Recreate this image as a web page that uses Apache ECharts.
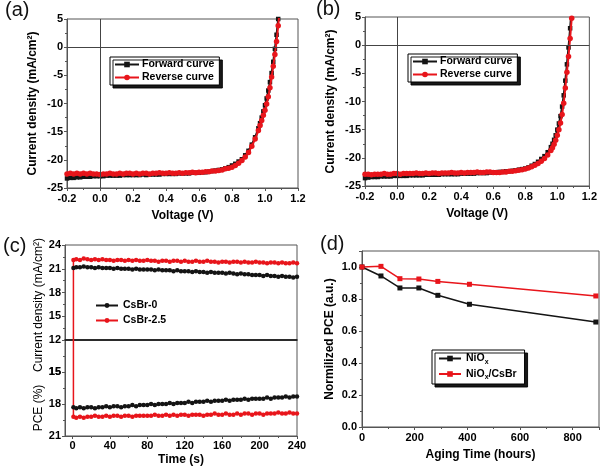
<!DOCTYPE html>
<html><head><meta charset="utf-8">
<script src="https://cdn.jsdelivr.net/npm/echarts@6/dist/echarts.min.js"></script>
<style>html,body{margin:0;padding:0;background:#fff}#c{width:600px;height:469px}</style>
</head><body><div id="c"></div>
<script>
// ---------- (a) / (b) J-V data ----------
const volts = [-0.20,-0.18,-0.16,-0.14,-0.12,-0.10,-0.08,-0.06,-0.04,-0.02,
  0.00,0.02,0.04,0.06,0.08,0.10,0.12,0.14,0.16,0.18,
  0.20,0.22,0.24,0.26,0.28,0.30,0.32,0.34,0.36,0.38,
  0.40,0.42,0.44,0.46,0.48,0.50,0.52,0.54,0.56,0.58,
  0.60,0.62,0.64,0.66,0.68,0.70,0.72,0.74,0.76,0.78,
  0.80,0.82,0.84,0.86,0.88,0.90,0.92,0.94,0.96,
  0.97,0.98,0.99,1.00,1.01,1.02,1.03,1.04,1.05,1.06,1.07,1.08,1.09,1.10];
const fwdA = [-23.3,-23.2,-23.2,-23.1,-23.1,-23.0,-23.0,-23.0,-22.9,-22.9,
  -22.9,-22.9,-22.8,-22.8,-22.8,-22.8,-22.8,-22.7,-22.7,-22.7,
  -22.7,-22.7,-22.7,-22.6,-22.7,-22.6,-22.6,-22.6,-22.6,-22.5,
  -22.5,-22.5,-22.5,-22.5,-22.4,-22.4,-22.4,-22.4,-22.3,-22.3,
  -22.3,-22.2,-22.2,-22.1,-22.0,-21.9,-21.8,-21.7,-21.5,-21.3,
  -21.0,-20.7,-20.3,-19.9,-19.2,-18.4,-17.3,-16.0,-14.4,
  -13.5,-12.5,-11.4,-10.3,-9.1,-7.7,-6.2,-4.6,-2.6,-0.3,2.2,5.0,8.0,11.0];
const revA = [-22.5,-22.4,-22.5,-22.4,-22.5,-22.4,-22.5,-22.4,-22.5,-22.5,
  -22.6,-22.5,-22.5,-22.4,-22.5,-22.5,-22.4,-22.5,-22.4,-22.4,
  -22.5,-22.4,-22.5,-22.4,-22.4,-22.5,-22.4,-22.4,-22.3,-22.4,
  -22.4,-22.3,-22.4,-22.4,-22.3,-22.4,-22.3,-22.3,-22.2,-22.3,
  -22.2,-22.2,-22.1,-22.1,-22.0,-22.0,-21.9,-21.8,-21.6,-21.5,
  -21.3,-21.0,-20.6,-20.1,-19.5,-18.7,-17.6,-16.3,-14.8,
  -13.9,-13.0,-12.1,-11.2,-10.1,-8.8,-7.2,-5.3,-3.4,-1.3,1.0,3.8,6.8,10.0];
const fwdB = [-23.6,-23.5,-23.4,-23.4,-23.4,-23.3,-23.3,-23.3,-23.3,-23.2,
  -23.2,-23.2,-23.2,-23.2,-23.1,-23.1,-23.1,-23.1,-23.1,-23.0,
  -23.0,-23.0,-23.0,-23.0,-22.9,-22.9,-22.9,-22.9,-22.9,-22.9,
  -22.8,-22.8,-22.8,-22.8,-22.8,-22.7,-22.7,-22.7,-22.7,-22.6,
  -22.6,-22.6,-22.5,-22.5,-22.4,-22.4,-22.3,-22.2,-22.1,-22.0,
  -21.9,-21.7,-21.4,-21.1,-20.7,-20.2,-19.7,-19.0,-18.1,
  -17.5,-16.8,-16.0,-15.0,-13.9,-12.6,-10.9,-8.9,-6.3,-3.4,-0.4,3.0,6.8,10.5];
const revB = [-22.9,-22.9,-23.0,-22.9,-22.9,-22.9,-22.8,-22.9,-22.9,-22.8,
  -22.8,-22.9,-22.8,-22.8,-22.8,-22.8,-22.7,-22.8,-22.8,-22.7,
  -22.8,-22.7,-22.7,-22.8,-22.7,-22.7,-22.7,-22.6,-22.7,-22.7,
  -22.6,-22.7,-22.6,-22.6,-22.6,-22.5,-22.6,-22.6,-22.5,-22.5,
  -22.6,-22.6,-22.6,-22.5,-22.5,-22.4,-22.4,-22.3,-22.2,-22.1,
  -22.0,-21.8,-21.6,-21.3,-21.0,-20.6,-20.1,-19.5,-18.7,
  -18.2,-17.6,-16.9,-16.0,-15.0,-13.8,-12.3,-10.3,-7.6,-4.8,-2.0,1.2,4.8,8.6];

// ---------- (c) stability data ----------
const times = [1,4,8,12,16,20,24,28,32,36,40,44,48,52,56,60,64,68,72,76,
  80,84,88,92,96,100,104,108,112,116,120,124,128,132,136,140,144,148,152,156,
  160,164,168,172,176,180,184,188,192,196,200,204,208,212,216,220,224,228,232,236,240];
const jCsBr0 = [21.1,21.2,21.2,21.3,21.2,21.2,21.1,21.2,21.1,21.1,
  21.1,21.0,21.1,21.0,21.0,21.0,20.9,21.0,20.9,20.9,
  20.9,20.9,20.8,20.9,20.8,20.8,20.8,20.7,20.8,20.7,
  20.7,20.7,20.6,20.7,20.6,20.6,20.5,20.6,20.5,20.5,
  20.5,20.4,20.5,20.4,20.3,20.4,20.3,20.3,20.2,20.2,
  20.2,20.1,20.2,20.1,20.1,20.0,20.1,20.0,20.0,19.9,20.0];
const jCsBr25 = [22.1,22.2,22.1,22.3,22.2,22.1,22.2,22.1,22.2,22.1,
  22.1,22.0,22.1,22.1,22.0,22.1,22.0,22.1,22.0,22.0,
  22.1,22.0,22.0,21.9,22.0,22.0,21.9,22.0,22.0,21.9,
  22.0,21.9,21.9,22.0,21.9,21.9,22.0,21.9,21.9,21.8,
  21.9,21.9,21.8,21.9,21.9,21.8,21.9,21.8,21.8,21.9,
  21.8,21.8,21.7,21.8,21.8,21.7,21.8,21.7,21.7,21.8,21.7];
const pceCsBr0 = [18.3,18.4,18.3,18.4,18.3,18.3,18.4,18.3,18.3,18.2,
  18.3,18.2,18.2,18.3,18.2,18.2,18.1,18.2,18.1,18.1,
  18.1,18.0,18.1,18.0,18.0,18.0,17.9,18.0,17.9,17.9,
  17.9,17.8,17.9,17.8,17.8,17.8,17.7,17.8,17.7,17.7,
  17.7,17.6,17.7,17.6,17.6,17.6,17.5,17.6,17.5,17.5,
  17.5,17.5,17.4,17.5,17.4,17.4,17.4,17.3,17.4,17.3,17.3];
const pceCsBr25 = [19.2,19.3,19.2,19.3,19.2,19.2,19.1,19.2,19.2,19.1,
  19.2,19.1,19.1,19.2,19.1,19.1,19.2,19.1,19.1,19.1,
  19.1,19.1,19.0,19.1,19.1,19.0,19.1,19.0,19.1,19.0,
  19.0,19.1,19.0,19.0,19.0,19.1,19.0,19.0,18.9,19.0,
  19.0,18.9,19.0,19.0,18.9,19.0,18.9,18.9,19.0,18.9,
  18.9,19.0,18.9,18.9,18.9,18.8,18.9,18.9,18.8,18.9,18.9];
const timeTicks = [0,40,80,120,160,200,240];
const timeMinorTicks = [20,60,100,140,180,220];
const pceExtraTick = 15;

// ---------- (d) aging data ----------
const agingHours = [0,72,144,216,288,408,888];
const pceNiOx = [1.0,0.944,0.869,0.869,0.823,0.767,0.656];
const pceNiOxCsBr = [1.0,1.004,0.927,0.925,0.91,0.892,0.819];

const zip = (xs, ys) => xs.map((x, i) => [x, ys[i]]);
const FONT = 'Liberation Sans';
const BLACK = '#141414', RED = '#e8151b', AXIS = '#555';

const lblStyle = {color: '#000', fontWeight: 'bold', fontSize: 11, fontFamily: FONT};
const nameStyle = {color: '#000', fontWeight: 'bold', fontSize: 12, fontFamily: FONT};

function axis(o) {
  return Object.assign({
    type: 'value',
    axisLine: {show: true, onZero: false, lineStyle: {color: AXIS, width: 1}},
    axisTick: {show: true, inside: false, length: 3, lineStyle: {color: AXIS}},
    minorTick: {show: true, splitNumber: 2, length: 2, lineStyle: {color: AXIS}},
    splitLine: {show: false},
    axisLabel: Object.assign({margin: 4}, lblStyle),
    nameLocation: 'middle',
    nameTextStyle: nameStyle
  }, o);
}
const grid = (l, t, w, h) => ({left: l, top: t, width: w, height: h, show: true, borderColor: AXIS, borderWidth: 1, backgroundColor: 'transparent'});

const oneDec = v => v.toFixed(1);
const zeroLines = {silent: true, symbol: 'none', label: {show: false}, lineStyle: {color: '#444', width: 1, type: 'solid'}, data: [{yAxis: 0}, {xAxis: 0}]};

function jvSeries(name, x, y, data, isRed, withLines) {
  const s = {
    name, type: 'line', xAxisIndex: x, yAxisIndex: y, data,
    symbol: isRed ? 'circle' : 'rect', symbolSize: isRed ? 5.5 : 4.5, showAllSymbol: true,
    lineStyle: {color: isRed ? RED : BLACK, width: 2},
    itemStyle: {color: isRed ? RED : BLACK},
    z: isRed ? 4 : 3
  };
  if (withLines) s.markLine = zeroLines;
  return s;
}
function tSeries(name, x, y, data, isRed) {
  return {
    name, type: 'line', xAxisIndex: x, yAxisIndex: y, data,
    symbol: 'circle', symbolSize: 4.5, showAllSymbol: true,
    lineStyle: {color: isRed ? RED : BLACK, width: 1.5},
    itemStyle: {color: isRed ? RED : BLACK}, z: isRed ? 4 : 3
  };
}
const boxLegend = (data, left, top, extra) => Object.assign({
  data, left, top, orient: 'vertical', itemGap: 2, itemWidth: 24, itemHeight: 7,
  padding: [2, 5, 2, 4], borderColor: '#000', borderWidth: 1, backgroundColor: '#fff',
  shadowColor: 'rgba(0,0,0,0.9)', shadowOffsetX: 3, shadowOffsetY: 3, shadowBlur: 0,
  textStyle: {color: '#000', fontWeight: 'bold', fontSize: 10.5, fontFamily: FONT, padding: [0, 0, 0, -2]},
  selectedMode: false
}, extra || {});
const vText = (text, x, y) => ({type: 'text', x, y, rotation: Math.PI / 2, silent: true,
  style: {text, fill: '#000', font: 'bold 10px "Liberation Sans"', align: 'center', verticalAlign: 'middle'}});

const chart = echarts.init(document.getElementById('c'), null, {renderer: 'canvas'});
chart.setOption({
  animation: false,
  backgroundColor: '#fff',
  title: [
    {text: '(a)', left: 5, top: 0},
    {text: '(b)', left: 316, top: -1},
    {text: '(c)', left: 3, top: 236},
    {text: '(d)', left: 320, top: 234}
  ].map(t => Object.assign(t, {padding: 0, textStyle: {fontSize: 20, fontWeight: 'normal', color: '#111', fontFamily: FONT}})),
  graphic: [
    vText('Current density (mA/cm²)', 39, 305),
    vText('PCE (%)', 39, 408)
  ],
  grid: [
    grid(67, 19, 231, 169),
    grid(365, 17, 228, 169),
    grid(65, 245, 232, 95),
    grid(65, 340, 232, 96),
    grid(362, 251, 237, 176)
  ],
  legend: [
    boxLegend(['Forward curve', 'Reverse curve'], 110, 57),
    boxLegend(['Forward curve', 'Reverse curve'], 408, 54),
    {data: ['CsBr-0', 'CsBr-2.5'], left: 90, top: 295, orient: 'vertical', itemGap: 4, itemWidth: 22, itemHeight: 6,
     textStyle: {color: '#000', fontWeight: 'bold', fontSize: 10.5, fontFamily: FONT}, selectedMode: false},
    boxLegend(['NiOx', 'NiOx/CsBr'], 432, 350, {
      padding: [3, 8, 3, 6], itemGap: 3, itemWidth: 22,
      formatter: n => n === 'NiOx' ? 'NiO{s|x}' : 'NiO{s|x}/CsBr',
      textStyle: {color: '#000', fontWeight: 'bold', fontSize: 10.5, fontFamily: FONT,
        rich: {s: {fontSize: 7, fontWeight: 'bold', fontFamily: FONT, color: '#000', padding: [7, 0, 0, 0]}}}
    })
  ],
  xAxis: [
    axis({gridIndex: 0, min: -0.2, max: 1.2, interval: 0.2, name: 'Voltage (V)', nameGap: 22,
      axisLabel: Object.assign({margin: 5, formatter: oneDec}, lblStyle)}),
    axis({gridIndex: 1, min: -0.2, max: 1.2, interval: 0.2, name: 'Voltage (V)', nameGap: 22,
      axisLabel: Object.assign({margin: 5, formatter: oneDec}, lblStyle)}),
    axis({gridIndex: 2, min: -8, max: 240, axisLine: {show: true, onZero: false, lineStyle: {color: '#111', width: 1.5}},
      axisTick: {show: false}, minorTick: {show: false}, axisLabel: {show: false}}),
    axis({gridIndex: 3, min: -8, max: 240, name: 'Time (s)', nameGap: 18, position: 'bottom',
      axisTick: {show: true, length: 3, customValues: timeTicks, lineStyle: {color: AXIS}},
      minorTick: {show: false},
      axisLabel: Object.assign({margin: 4, customValues: timeTicks}, lblStyle)}),
    axis({gridIndex: 4, min: 0, max: 900, interval: 200, name: 'Aging Time (hours)', nameGap: 22,
      axisLabel: Object.assign({margin: 5, showMaxLabel: false}, lblStyle)}),
    axis({gridIndex: 3, min: -8, max: 240, position: 'top', offset: -96, axisLine: {show: false},
      axisTick: {show: true, inside: true, length: 2, customValues: timeMinorTicks, lineStyle: {color: AXIS}},
      minorTick: {show: false}, axisLabel: {show: false}})
  ],
  yAxis: [
    axis({gridIndex: 0, min: -25, max: 5, interval: 5, name: 'Current density (mA/cm²)', nameGap: 28}),
    axis({gridIndex: 1, min: -25, max: 5, interval: 5, name: 'Current density (mA/cm²)', nameGap: 28}),
    axis({gridIndex: 2, min: 12, max: 24, interval: 3}),
    axis({gridIndex: 3, min: 12, max: 21, interval: 3, inverse: true, position: 'left',
      axisLabel: Object.assign({margin: 4, showMinLabel: true, showMaxLabel: true, formatter: v => (v === 12 ? '' : String(v))}, lblStyle)}),
    axis({gridIndex: 4, min: 0, max: 1.1, interval: 0.2, name: 'Normilized PCE (a.u.)', nameGap: 26,
      axisLabel: Object.assign({margin: 5, showMaxLabel: false, formatter: oneDec}, lblStyle)})
  ],
  series: [
    jvSeries('Forward curve', 0, 0, zip(volts, fwdA), false, true),
    jvSeries('Reverse curve', 0, 0, zip(volts, revA), true, false),
    jvSeries('Forward curve', 1, 1, zip(volts, fwdB), false, true),
    jvSeries('Reverse curve', 1, 1, zip(volts, revB), true, false),
    tSeries('CsBr-0', 2, 2, zip(times, jCsBr0), false),
    tSeries('CsBr-2.5', 2, 2, zip(times, jCsBr25), true),
    tSeries('CsBr-0', 3, 3, zip(times, pceCsBr0), false),
    tSeries('CsBr-2.5', 3, 3, zip(times, pceCsBr25), true),
    {type: 'line', xAxisIndex: 2, yAxisIndex: 2, data: [[times[0], jCsBr25[0]], [times[0], 12]], symbol: 'none',
     lineStyle: {color: RED, width: 1.5}, z: 2, silent: true},
    {type: 'line', xAxisIndex: 3, yAxisIndex: 3, data: [[times[0], 12], [times[0], pceCsBr25[0]]], symbol: 'none',
     lineStyle: {color: RED, width: 1.5}, z: 2, silent: true},
    {name: 'NiOx', type: 'line', xAxisIndex: 4, yAxisIndex: 4, data: zip(agingHours, pceNiOx),
     symbol: 'rect', symbolSize: 5, lineStyle: {color: BLACK, width: 1.5}, itemStyle: {color: BLACK}},
    {name: 'NiOx/CsBr', type: 'line', xAxisIndex: 4, yAxisIndex: 4, data: zip(agingHours, pceNiOxCsBr),
     symbol: 'rect', symbolSize: 5, lineStyle: {color: RED, width: 1.5}, itemStyle: {color: RED}}
  ]
});
// the "15" tick label of the PCE axis, positioned through the library's own axis scale
const pceLabelY = chart.convertToPixel({yAxisIndex: 3}, pceExtraTick);
const pceAxisX = chart.convertToPixel({xAxisIndex: 3}, -8);
chart.setOption({graphic: [{}, {}, {type: 'text', x: pceAxisX - 4, y: pceLabelY, silent: true,
  style: {text: String(pceExtraTick), fill: '#000', font: 'bold 11px "Liberation Sans"', align: 'right', verticalAlign: 'middle'}}]});
</script></body></html>
